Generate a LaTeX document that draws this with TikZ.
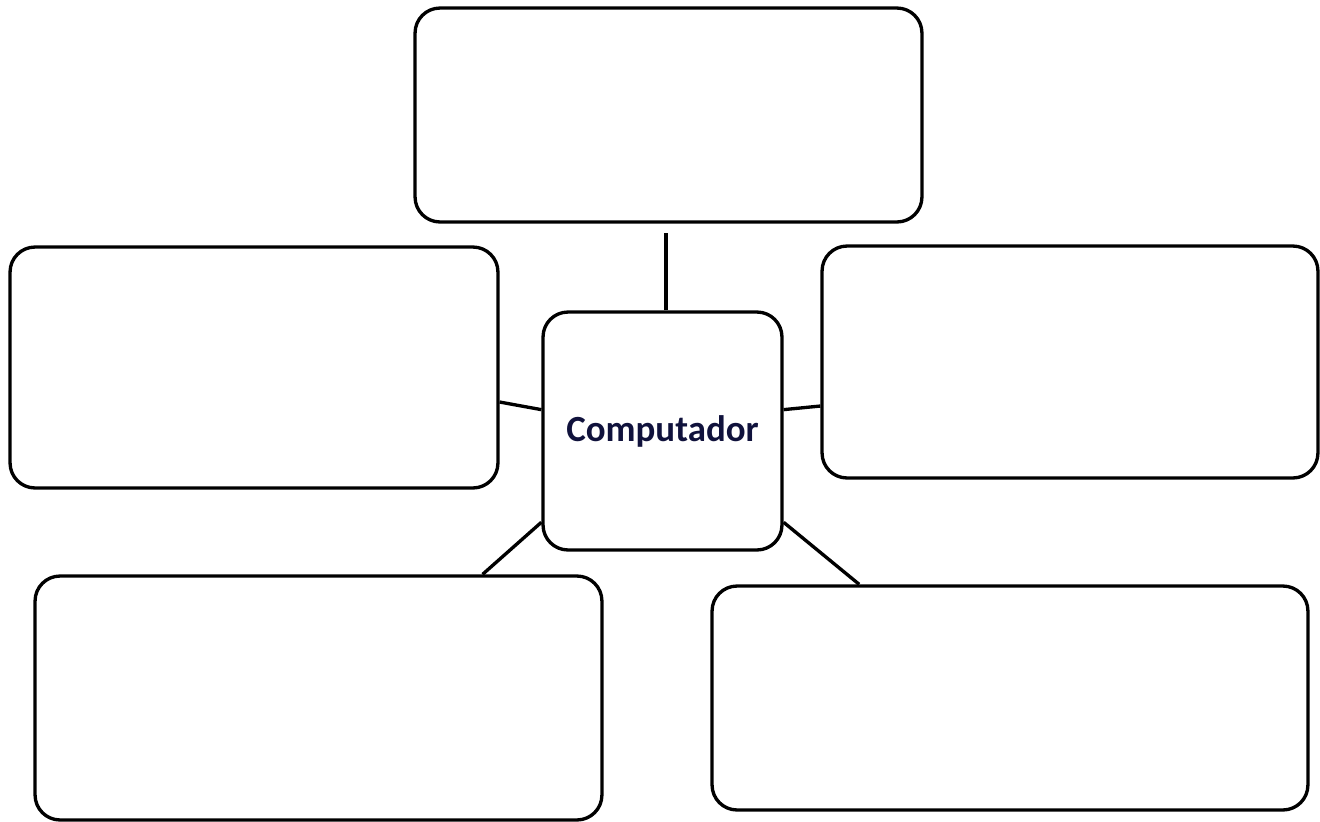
\documentclass[tikz,border=0pt]{standalone}
\usepackage{fontspec}
\setmainfont{Carlito}
\definecolor{labelnavy}{RGB}{16,18,60}
\tikzset{
  box/.style={draw,line width=1.9pt,rounded corners=0.5cm,inner sep=0pt},
  link/.style={line width=1.9pt}
}
\begin{document}
\begin{tikzpicture}[x=0.02cm,y=-0.02cm,font=\fontsize{21}{25}\selectfont\bfseries]
    \useasboundingbox (0,0) rectangle (1320,822);
    \node[box,minimum width=10.14cm,minimum height=4.28cm] (top) at (668.5,115) {};
    \node[box,minimum width=9.76cm,minimum height=4.82cm] (left) at (254,367.5) {};
    \node[box,minimum width=9.92cm,minimum height=4.64cm] (right) at (1070,362) {};
    \node[box,minimum width=4.78cm,minimum height=4.76cm,text=labelnavy] (center) at (662.5,431) {\raisebox{-2pt}{Computador}};
    \node[box,minimum width=11.34cm,minimum height=4.88cm] (botleft) at (318.5,698) {};
    \node[box,minimum width=11.92cm,minimum height=4.48cm] (botright) at (1010,698) {};
    \coordinate (topend) at (666,233);
    \draw[link] (topend |- center.north) -- (topend);
    \draw[link] (left.-8.7) -- (center.170);
    \draw[link] (center.10) -- (right.190);
    \draw[link] (center.217.6) -- (botleft.37.4);
    \draw[link] (center.-37.6) -- (botright.143.8);
\end{tikzpicture}
\end{document}
